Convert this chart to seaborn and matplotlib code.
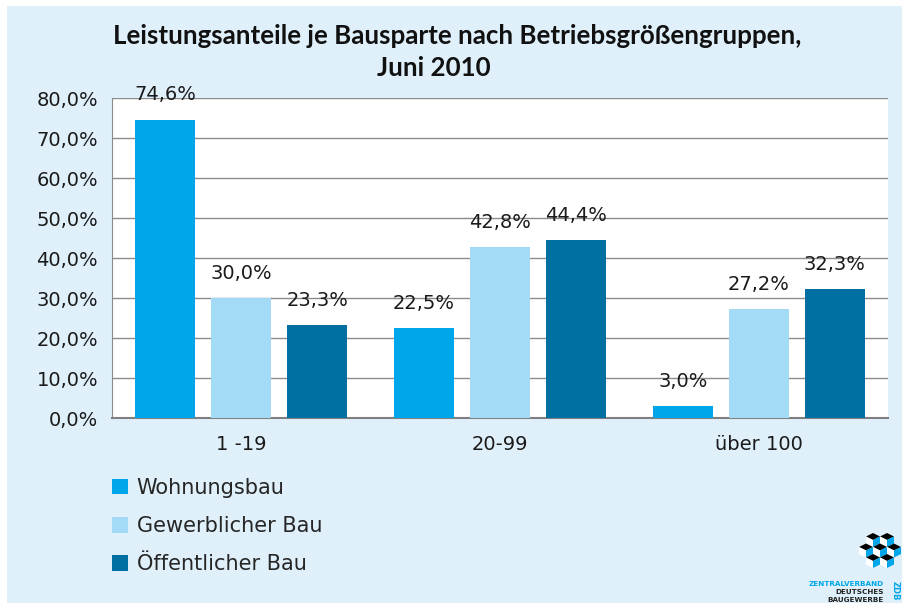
import numpy as np
import pandas as pd
import matplotlib
matplotlib.use("Agg")
import matplotlib.pyplot as plt
import seaborn as sns
from matplotlib.patches import Rectangle, Patch, Polygon

# ----------------------------------------------------------------------------
# Data
# ----------------------------------------------------------------------------
groups = ["1 -19", "20-99", "über 100"]
series = ["Wohnungsbau", "Gewerblicher Bau", "Öffentlicher Bau"]
wohnungsbau = [74.6, 22.5, 3.0]
gewerblich = [30.0, 42.8, 27.2]
oeffentlich = [23.3, 44.4, 32.3]
yticks = [0, 10, 20, 30, 40, 50, 60, 70, 80]

title_1 = "Leistungsanteile je Bausparte nach Betriebsgrößengruppen,"
title_2 = "Juni 2010"
colors = ["#00A6EA", "#A3DAF5", "#0070A3"]

df = pd.DataFrame({
    "Gruppe": groups * 3,
    "Bausparte": [s for s in series for _ in groups],
    "Anteil": wohnungsbau + gewerblich + oeffentlich,
})

# ----------------------------------------------------------------------------
# Style
# ----------------------------------------------------------------------------
sns.set_style("white")
plt.rcParams["font.family"] = ["DejaVu Sans"]

bg = "#DFF0FA"
W, H = 902, 603
fig = plt.figure(figsize=(W / 100, H / 100), dpi=100, facecolor="white")
fig.patches.append(Rectangle((7 / W, 0), 1 - 7 / W, 1 - 6 / H,
                             transform=fig.transFigure, facecolor=bg,
                             edgecolor="none", zorder=-10))

ax = fig.add_axes([112 / W, 1 - 418 / H, (888 - 112) / W, (418 - 98) / H])
ax.set_facecolor("white")

sns.barplot(data=df, x="Gruppe", y="Anteil", hue="Bausparte",
            palette=colors, saturation=1, width=0.88, gap=0.21,
            legend=False, ax=ax, zorder=3, edgecolor="none", linewidth=0)

ax.set_ylim(0, 80)
ax.set_yticks(yticks)
ax.set_yticklabels([f"{v:.1f}%".replace(".", ",") for v in yticks])
ax.yaxis.grid(True, color="#8C8C8C", linewidth=1.0, zorder=0)
ax.set_axisbelow(True)
ax.set_xlabel("")
ax.set_ylabel("")

for side in ["top", "right"]:
    ax.spines[side].set_visible(False)
ax.spines["left"].set_color("#8C8C8C")
ax.spines["bottom"].set_color("#7F7F7F")
ax.spines["bottom"].set_linewidth(1.5)

ax.tick_params(axis="y", length=5, width=1, color="#8C8C8C", pad=5,
               labelsize=14, labelcolor="#1a1a1a")
ax.tick_params(axis="x", length=0, pad=12, labelsize=14, labelcolor="#1a1a1a")

for cont in ax.containers:
    ax.bar_label(cont, labels=[f"{v:.1f}%".replace(".", ",") for v in cont.datavalues],
                 padding=11, fontsize=14, color="#1a1a1a")

# title (two centred lines)
fig.text(457 / W, 1 - 36 / H, title_1, ha="center", va="center",
         fontsize=18.6, fontweight="bold", color="#111111", family=["Lato", "DejaVu Sans"])
fig.text(434 / W, 1 - 68 / H, title_2, ha="center", va="center",
         fontsize=18.6, fontweight="bold", color="#111111", family=["Lato", "DejaVu Sans"])

handles = [Patch(facecolor=c, edgecolor="none") for c in colors]
fig.legend(handles, series, loc="upper left", bbox_to_anchor=(93 / W, 1 - 459 / H),
           frameon=False, fontsize=15, handlelength=0.8, handleheight=0.8,
           handletextpad=0.4, labelspacing=0.88)

# ZDB logo (simplified): small isometric cubes + text
def cube(cx, cy, s=7.0):
    # cx, cy in pixels from top-left
    def p(x, y):
        return (x / W, 1 - y / H)
    top = [p(cx, cy - s), p(cx + s, cy - s / 2), p(cx, cy), p(cx - s, cy - s / 2)]
    left = [p(cx - s, cy - s / 2), p(cx, cy), p(cx, cy + s), p(cx - s, cy + s / 2)]
    right = [p(cx, cy), p(cx + s, cy - s / 2), p(cx + s, cy + s / 2), p(cx, cy + s)]
    for pts, c in [(top, "black"), (left, "white"), (right, "#00A6EA")]:
        fig.patches.append(Polygon(pts, closed=True, transform=fig.transFigure,
                                   facecolor=c, edgecolor="none"))

for cx, cy in [(873, 540), (887, 540), (866, 550.5), (880, 550.5), (894, 550.5),
               (873, 561), (887, 561)]:
    cube(cx, cy)

fig.text(884 / W, 1 - 584 / H, "ZENTRALVERBAND", ha="right", va="center",
         fontsize=5.2, fontweight="bold", color="#00A6EA")
fig.text(884 / W, 1 - 592 / H, "DEUTSCHES", ha="right", va="center",
         fontsize=5.2, fontweight="bold", color="#222222")
fig.text(884 / W, 1 - 600 / H, "BAUGEWERBE", ha="right", va="center",
         fontsize=5.2, fontweight="bold", color="#222222")
fig.text(895 / W, 1 - 591 / H, "ZDB", ha="center", va="center", rotation=-90,
         fontsize=6, fontweight="bold", color="#00A6EA")

fig.savefig("out.png", dpi=100, facecolor=fig.get_facecolor())
